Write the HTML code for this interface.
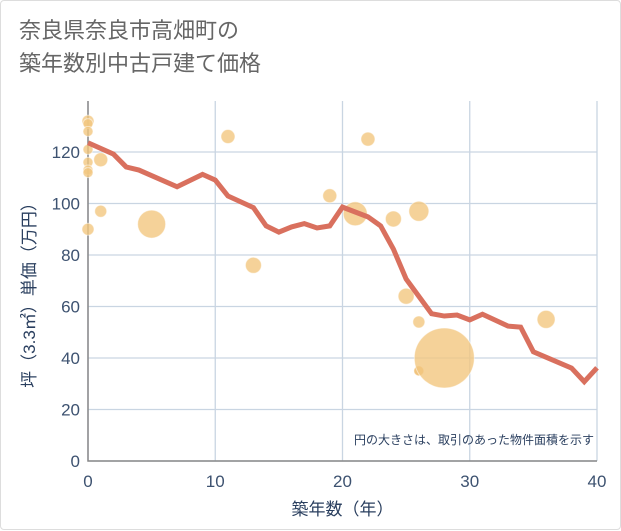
<!DOCTYPE html>
<html><head><meta charset="utf-8"><style>
body{margin:0;background:#fff;font-family:"Liberation Sans","Noto Sans CJK JP",sans-serif;}
.card{position:absolute;left:0;top:0;width:619px;height:528px;border:1px solid #ddd;border-radius:4px;background:#fff;}
.title{position:absolute;left:18px;top:13px;font-size:22px;line-height:33px;color:#666;}
</style></head><body>
<div class="card">
<div class="title">奈良県奈良市高畑町の<br>築年数別中古戸建て価格</div>
<svg id="c" width="621" height="530" style="position:absolute;left:0;top:0"></svg>
</div>
<script>
const lineYears=[0,2,3,4,7,9,10,11,13,14,15,16,17,18,19,20,22,23,24,25,27,28,29,30,31,33,34,35,38,39,40];
const linePrices=[123.6,119.2,114.2,113,106.5,111.3,109.1,102.9,98.4,91.3,88.9,90.9,92.2,90.5,91.3,98.6,94.8,91.3,82.3,70.7,57.2,56.3,56.7,54.8,57,52.4,52,42.4,36.1,30.8,36.2];
const bubbleYears=[0,0,0,0,0,0,0,1,1,0,5,11,13,19,21,22,24,26,25,26,26,28,36];
const bubblePrices=[132,131,128,121,116,113,112,117,97,90,92,126,76,103,96,125,94,97,64,54,35,40,55];
const bubbleRadii=[6,5,5,5,5,5,5,7,6,6,14,7,8,7,12,7,8,10,8,6,5,30,9];
const xTicks=[0,10,20,30,40];
const yTicks=[0,20,40,60,80,100,120];
const NS="http://www.w3.org/2000/svg";
const svg=document.getElementById('c');
const X0=87,X1=596,Y0=460,Ytop=100;
const xs=v=>X0+v*(X1-X0)/40;
const ys=v=>Y0-v*2.575;
function mk(t,a){const e=document.createElementNS(NS,t);for(const k in a)e.setAttribute(k,a[k]);svg.appendChild(e);return e;}
for(const t of yTicks){
 const g=mk('line',{x1:X0,x2:X1,y1:ys(t),y2:ys(t),stroke:'#c9d5e2','stroke-width':1.3});
 
 
 const l=mk('text',{x:X0-8,y:ys(t)+6,'text-anchor':'end','font-size':17,fill:'#3d5270'});
 l.textContent=t;
 
 
}
for(const t of xTicks){
 const g=mk('line',{x1:xs(t),x2:xs(t),y1:Ytop,y2:Y0,stroke:'#c9d5e2','stroke-width':1.3});
 
 
 const l=mk('text',{x:xs(t),y:Y0+26,'text-anchor':'middle','font-size':17,fill:'#3d5270'});
 l.textContent=t;
 
 
}
const ax=mk('path',{d:`M${X0} ${Ytop}V${Y0}H${X1}`,stroke:'#888',fill:'none','stroke-width':1.5});


bubbleYears.forEach((y,i)=>{
 const dark=bubbleRadii[i]<=5&&y>20;
 const c=mk('circle',{cx:xs(y),cy:ys(bubblePrices[i]),r:bubbleRadii[i],fill:dark?'#eeb55e':'#f3c77f','fill-opacity':0.8,stroke:'#fff','stroke-opacity':0.5});
 
 
});
const p=mk('polyline',{points:lineYears.map((y,i)=>xs(y)+','+ys(linePrices[i])).join(' '),fill:'none',stroke:'#d9705e','stroke-width':5,'stroke-linejoin':'miter'});


const n=mk('text',{x:593,y:443,'text-anchor':'end','font-size':12,fill:'#2a3f5f'});
n.textContent='円の大きさは、取引のあった物件面積を示す';


const xt=mk('text',{x:(X0+X1)/2,y:514,'text-anchor':'middle','font-size':17,fill:'#2a3f5f'});
xt.textContent='築年数（年）';


const yt=mk('text',{x:0,y:0,'text-anchor':'middle','font-size':17,fill:'#2a3f5f',transform:`translate(34,${(Ytop+Y0)/2+10}) rotate(-90)`});
yt.textContent='坪（3.3㎡）単価（万円）';


</script>
</body></html>
